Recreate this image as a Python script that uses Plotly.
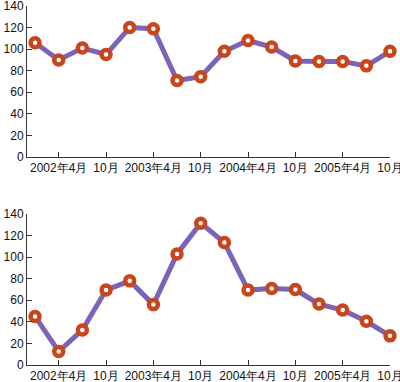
import plotly.graph_objects as go
from plotly.subplots import make_subplots

quarters = list(range(16))
tick_positions = [1, 3, 5, 7, 9, 11, 13, 15]
tick_labels = ["2002年4月", "10月", "2003年4月", "10月", "2004年4月", "10月", "2005年4月", "10月"]
top_values = [106, 90, 101, 95, 120, 119, 71, 74.5, 98, 108, 102, 89, 88.5, 88.5, 84.5, 98]
bottom_values = [45, 12.5, 32.5, 69.5, 78, 56, 103, 131.5, 113.5, 69.5, 71, 70, 56.5, 51, 40.5, 27]
y_ticks = [0, 20, 40, 60, 80, 100, 120, 140]

LINE = "#7b63b8"
MARK = "#c9461d"
AX = "#333333"

fig = make_subplots(rows=2, cols=1, vertical_spacing=0.1)
for r, vals in ((1, top_values), (2, bottom_values)):
    fig.add_trace(go.Scatter(
        x=quarters, y=vals, mode="lines+markers",
        line=dict(color=LINE, width=5),
        marker=dict(size=9, color="white", line=dict(color=MARK, width=4.5)),
        cliponaxis=False, showlegend=False, hoverinfo="skip",
    ), row=r, col=1)

axis_font = dict(family="Liberation Sans, Arial, sans-serif", size=12, color="#111111")
for r, dom in ((1, [0.5794, 1.0]), (2, [0.0, 0.4206])):
    fig.update_xaxes(row=r, col=1, range=[-0.34, 15], tickvals=tick_positions, ticktext=tick_labels,
                     showline=True, linecolor=AX, linewidth=1, ticks="inside", ticklen=5,
                     tickcolor=AX, showgrid=False, zeroline=False, tickfont=axis_font,
                     automargin=False, domain=[0, 1], ticklabeloverflow="allow")
    fig.update_yaxes(row=r, col=1, range=[0, 140], tickvals=y_ticks, domain=dom,
                     showline=True, linecolor=AX, linewidth=1, ticks="inside", ticklen=5,
                     tickcolor=AX, showgrid=False, zeroline=False, tickfont=axis_font,
                     automargin=False, ticklabeloverflow="allow")

fig.update_layout(width=400, height=382, margin=dict(l=27, r=10, t=6, b=17),
                  paper_bgcolor="white", plot_bgcolor="white")
fig.write_html("out.html", config={"displayModeBar": False, "staticPlot": True},
               post_script="document.body.style.margin='0';document.body.style.overflow='hidden';")
